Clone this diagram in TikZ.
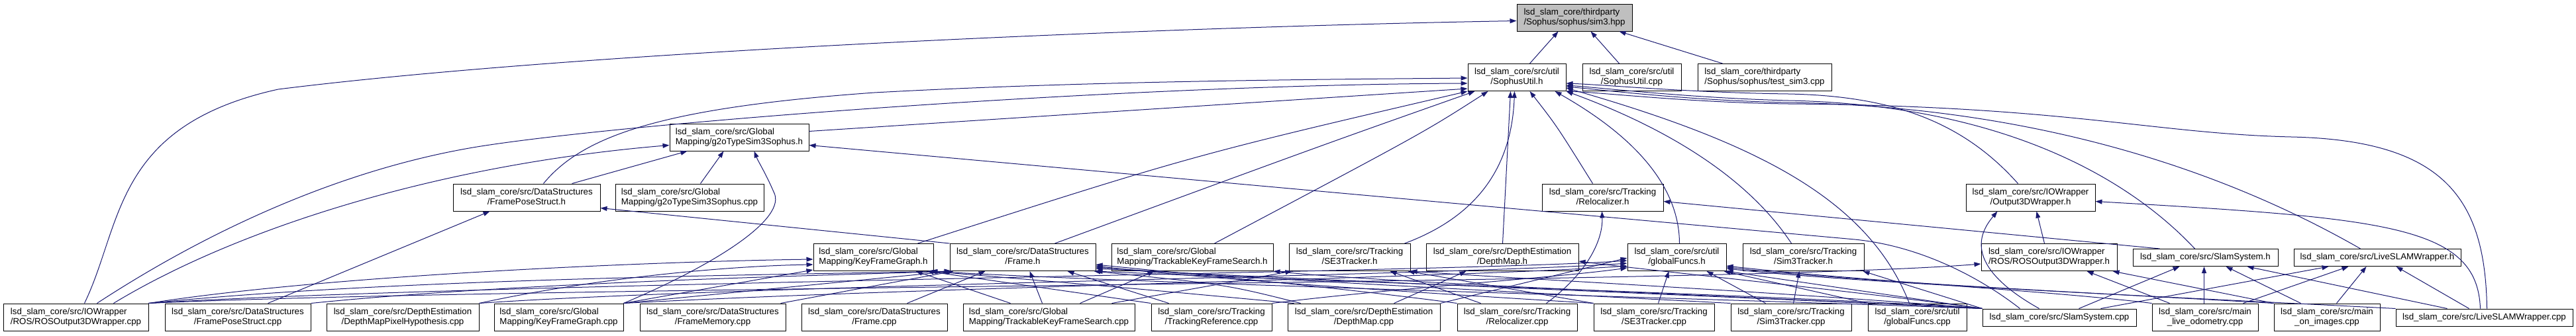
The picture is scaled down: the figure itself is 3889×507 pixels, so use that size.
\documentclass[tikz,border=0pt]{standalone}
\usepackage{fontspec}
\setmainfont{Liberation Sans}
\usetikzlibrary{arrows.meta}
\definecolor{edgec}{HTML}{191970}
\definecolor{rootgray}{HTML}{BFBFBF}
\newsavebox\lblA
\newsavebox\lblB
\newlength\lblw
\newcommand\lbl[2]{\sbox\lblA{#1}\sbox\lblB{#2}\setlength\lblw{\wd\lblA}\ifdim\wd\lblB>\lblw\setlength\lblw{\wd\lblB}\fi\begin{tabular}{@{}l@{}}\usebox\lblA\\\makebox[\lblw][c]{\usebox\lblB}\end{tabular}}
\tikzset{
  box/.style={draw=black, fill=white, line width=1pt, inner sep=2pt, font=\fontsize{13.3}{15}\selectfont, minimum height=41pt},
  onebox/.style={box, minimum height=26pt},
  rootbox/.style={box, fill=rootgray},
  edge/.style={draw=edgec, line width=1pt, -{Triangle[length=10pt,width=7pt]}},
}
\begin{document}
\begin{tikzpicture}[x=1pt,y=-1pt]
\useasboundingbox (0,0) rectangle (3889,507);
% row 1-2
\node[rootbox, minimum width=174pt] (sim3) at (2377,26.5) {\lbl{lsd\_slam\_core/thirdparty}{/Sophus/sophus/sim3.hpp}};
\node[box, minimum width=148pt] (SUh) at (2290,117) {\lbl{lsd\_slam\_core/src/util}{/SophusUtil.h}};
\node[box, minimum width=149pt] (SUcpp) at (2463.5,117) {\lbl{lsd\_slam\_core/src/util}{/SophusUtil.cpp}};
\node[box, minimum width=202pt] (tsim3) at (2664,117) {\lbl{lsd\_slam\_core/thirdparty}{/Sophus/sophus/test\_sim3.cpp}};
% row 3-4
\node[box, minimum width=210pt] (g2oh) at (1116,207.5) {\lbl{lsd\_slam\_core/src/Global}{Mapping/g2oTypeSim3Sophus.h}};
\node[box, minimum width=222pt] (FPSh) at (795,298.5) {\lbl{lsd\_slam\_core/src/DataStructures}{/FramePoseStruct.h}};
\node[box, minimum width=224pt] (g2ocpp) at (1041,298.5) {\lbl{lsd\_slam\_core/src/Global}{Mapping/g2oTypeSim3Sophus.cpp}};
\node[box, minimum width=183pt] (Reloch) at (2419.5,298.5) {\lbl{lsd\_slam\_core/src/Tracking}{/Relocalizer.h}};
\node[box, minimum width=195pt] (O3Dh) at (3065.5,298.5) {\lbl{lsd\_slam\_core/src/IOWrapper}{/Output3DWrapper.h}};
% row 5
\node[box, minimum width=181pt] (KFGh) at (1318.5,389) {\lbl{lsd\_slam\_core/src/Global}{Mapping/KeyFrameGraph.h}};
\node[box, minimum width=220pt] (Frameh) at (1544,389) {\lbl{lsd\_slam\_core/src/DataStructures}{/Frame.h}};
\node[box, minimum width=244pt] (TKFSh) at (1800,389) {\lbl{lsd\_slam\_core/src/Global}{Mapping/TrackableKeyFrameSearch.h}};
\node[box, minimum width=183pt] (SE3h) at (2037.5,389) {\lbl{lsd\_slam\_core/src/Tracking}{/SE3Tracker.h}};
\node[box, minimum width=230pt] (DMh) at (2268,389) {\lbl{lsd\_slam\_core/src/DepthEstimation}{/DepthMap.h}};
\node[box, minimum width=149pt] (GFh) at (2531.5,389) {\lbl{lsd\_slam\_core/src/util}{/globalFuncs.h}};
\node[box, minimum width=183pt] (Sim3Th) at (2722.5,389) {\lbl{lsd\_slam\_core/src/Tracking}{/Sim3Tracker.h}};
\node[box, minimum width=205pt] (ROSh) at (3093.5,389) {\lbl{lsd\_slam\_core/src/IOWrapper}{/ROS/ROSOutput3DWrapper.h}};
\node[onebox, minimum width=219pt] (SSh) at (3329.5,389.5) {lsd\_slam\_core/src/SlamSystem.h};
\node[onebox, minimum width=252pt] (LSWh) at (3589,389.5) {lsd\_slam\_core/src/LiveSLAMWrapper.h};
% row 6
\node[box, minimum width=219pt] (ROScpp) at (114.5,479.5) {\lbl{lsd\_slam\_core/src/IOWrapper}{/ROS/ROSOutput3DWrapper.cpp}};
\node[box, minimum width=220pt] (FPScpp) at (359,479.5) {\lbl{lsd\_slam\_core/src/DataStructures}{/FramePoseStruct.cpp}};
\node[box, minimum width=230pt] (DMPHcpp) at (608,479.5) {\lbl{lsd\_slam\_core/src/DepthEstimation}{/DepthMapPixelHypothesis.cpp}};
\node[box, minimum width=195pt] (KFGcpp) at (843.5,479.5) {\lbl{lsd\_slam\_core/src/Global}{Mapping/KeyFrameGraph.cpp}};
\node[box, minimum width=220pt] (FMcpp) at (1076,479.5) {\lbl{lsd\_slam\_core/src/DataStructures}{/FrameMemory.cpp}};
\node[box, minimum width=220pt] (Framecpp) at (1320,479.5) {\lbl{lsd\_slam\_core/src/DataStructures}{/Frame.cpp}};
\node[box, minimum width=259pt] (TKFScpp) at (1583.5,479.5) {\lbl{lsd\_slam\_core/src/Global}{Mapping/TrackableKeyFrameSearch.cpp}};
\node[box, minimum width=182pt] (TRcpp) at (1829,479.5) {\lbl{lsd\_slam\_core/src/Tracking}{/TrackingReference.cpp}};
\node[box, minimum width=230pt] (DMcpp) at (2059,479.5) {\lbl{lsd\_slam\_core/src/DepthEstimation}{/DepthMap.cpp}};
\node[box, minimum width=181pt] (Reloccpp) at (2290.5,479.5) {\lbl{lsd\_slam\_core/src/Tracking}{/Relocalizer.cpp}};
\node[box, minimum width=182pt] (SE3cpp) at (2497,479.5) {\lbl{lsd\_slam\_core/src/Tracking}{/SE3Tracker.cpp}};
\node[box, minimum width=182pt] (Sim3Tcpp) at (2704,479.5) {\lbl{lsd\_slam\_core/src/Tracking}{/Sim3Tracker.cpp}};
\node[box, minimum width=149pt] (GFcpp) at (2894.5,479.5) {\lbl{lsd\_slam\_core/src/util}{/globalFuncs.cpp}};
\node[onebox, minimum width=232pt] (SScpp) at (3109,480) {lsd\_slam\_core/src/SlamSystem.cpp};
\node[box, minimum width=160pt] (locpp) at (3329,479.5) {\lbl{lsd\_slam\_core/src/main}{\_live\_odometry.cpp}};
\node[box, minimum width=160pt] (oicpp) at (3513,479.5) {\lbl{lsd\_slam\_core/src/main}{\_on\_images.cpp}};
\node[onebox, minimum width=267pt] (LSWcpp) at (3750.5,480) {lsd\_slam\_core/src/LiveSLAMWrapper.cpp};

% ---- edges into sim3
\draw[edge] ([xshift=94pt]SUh.north west) -- ([xshift=63pt]sim3.south west);
\draw[edge] ([xshift=56pt]SUcpp.north west) -- ([xshift=112pt]sim3.south west);
\draw[edge] ([xshift=38pt]tsim3.north west) -- ([xshift=155pt]sim3.south west);
\draw[edge] ([xshift=123pt]ROScpp.north west) .. controls (185,340) and (170,190) .. (420,135) .. controls (900,75) and (1800,40) .. ([yshift=-26pt]sim3.north west);
% ---- edges into SophusUtil.h
\draw[edge] ([yshift=-12pt]g2oh.north east) -- ([yshift=-38pt]SUh.north west);
\draw[edge] ([xshift=137pt]FPSh.north west) .. controls (880,205) and (1000,163) .. (1320,140) .. controls (1650,122) and (2000,120) .. ([yshift=-22pt]SUh.north west);
\draw[edge] ([xshift=142pt]ROScpp.north west) .. controls (320,345) and (520,255) .. (720,222) .. controls (950,185) and (1700,128) .. ([yshift=-30pt]SUh.north west);
\draw[edge] ([xshift=158pt]KFGh.north west) .. controls (1800,235) .. (SUh.south west);
\draw[edge] ([xshift=159pt]Frameh.north west) .. controls (2000,218) .. ([xshift=11pt]SUh.south west);
\draw[edge] ([xshift=156pt]TKFSh.north west) .. controls (2150,200) .. ([xshift=31pt]SUh.south west);
\draw[edge] ([xshift=175pt]SE3h.north west) .. controls (2250,320) and (2283,230) .. ([xshift=71pt]SUh.south west);
\draw[edge] ([xshift=116pt]DMh.north west) -- ([xshift=65pt]SUh.south west);
\draw[edge] ([xshift=77pt]Reloch.north west) .. controls (2350,190) .. ([xshift=94pt]SUh.south west);
\draw[edge] ([xshift=79pt]GFh.north west) .. controls (2535,260) and (2430,185) .. ([xshift=132pt]SUh.south west);
\draw[edge] ([xshift=74pt]Sim3Th.north west) .. controls (2640,270) and (2520,195) .. (SUh.south east);
\draw[edge] ([xshift=63pt]GFcpp.north west) .. controls (2820,300) and (2650,215) .. ([yshift=-37pt]SUh.north east);
\draw[edge] ([xshift=79pt]O3Dh.north west) .. controls (2960,180) and (2850,145) .. (2700,142) .. controls (2550,140) and (2420,128) .. ([yshift=-30pt]SUh.north east);
\draw[edge] ([xshift=94pt]SSh.north west) .. controls (3200,255) and (3000,158) .. (2700,152) .. controls (2550,148) and (2420,133) .. ([yshift=-33pt]SUh.north east);
\draw[edge] ([xshift=101pt]LSWh.north west) .. controls (3300,225) and (3000,160) .. (2700,155) .. controls (2550,152) and (2420,136) .. ([yshift=-35pt]SUh.north east);
\draw[edge] ([xshift=138pt]LSWcpp.north west) .. controls (3752,300) and (3690,212) .. (3459,207) .. controls (3250,202) and (3120,160) .. (2700,157) .. controls (2550,155) and (2420,140) .. (SUh.south east);
% ---- g2oTypeSim3Sophus.h
\draw[edge] ([xshift=167pt]ROScpp.north west) .. controls (350,350) and (650,250) .. ([yshift=-33pt]g2oh.north west);
\draw[edge] ([xshift=180pt]FPSh.north west) -- ([xshift=27pt]g2oh.south west);
\draw[edge] ([xshift=129pt]g2ocpp.north west) -- ([xshift=82pt]g2oh.south west);
\draw[edge] (KFGcpp.north east) .. controls (1080,400) and (1190,330) .. (1168,290) .. controls (1155,260) and (1145,245) .. ([xshift=128pt]g2oh.south west);
\draw[edge] ([xshift=57pt]SScpp.north west) .. controls (2990,420) and (2900,372) .. (2800,362) -- ([yshift=-33pt]g2oh.north east);
% ---- middle
\draw[edge] (Frameh.north west) -- ([yshift=-37pt]FPSh.north east);
\draw[edge] ([xshift=156pt]FPScpp.north west) -- ([xshift=56pt]FPSh.south west);
\draw[edge] ([xshift=96pt]ROSh.north west) -- ([xshift=107pt]O3Dh.south west);
\draw[edge] ([xshift=41pt]SSh.north west) -- ([yshift=-27pt]Reloch.north east);
\draw[edge] ([xshift=86pt]SScpp.north west) .. controls (2960,400) and (2990,350) .. ([xshift=48pt]O3Dh.south west);
\draw[edge] ([xshift=128pt]LSWcpp.north west) .. controls (3740,340) and (3600,330) .. ([yshift=-27pt]O3Dh.north east);
\draw[edge] ([xshift=135pt]Reloccpp.north west) .. controls (2400,410) and (2420,360) .. ([xshift=91pt]Reloch.south west);
% ---- KeyFrameGraph.h
\draw[edge] (ROScpp.north east) .. controls (500,415) and (1000,395) .. ([yshift=-24pt]KFGh.north west);
\draw[edge] (DMPHcpp.north east) .. controls (900,420) and (1100,402) .. ([yshift=-32pt]KFGh.north west);
\draw[edge] (KFGcpp.north east) -- ([yshift=-40pt]KFGh.north west);
\draw[edge] ([xshift=72pt]TKFScpp.north west) -- ([xshift=155pt]KFGh.south west);
\draw[edge] (TRcpp.north west) -- ([xshift=172pt]KFGh.south west);
\draw[edge] ([xshift=10pt]DMcpp.north west) .. controls (1700,435) .. ([xshift=176pt]KFGh.south west);
\draw[edge] (SScpp.north west) .. controls (2600,452) and (1700,428) .. ([xshift=178pt]KFGh.south west);
% ---- Frame.h
\draw[edge] (ROScpp.north east) .. controls (600,420) and (1200,415) .. ([xshift=2pt]Frameh.south west);
\draw[edge] (FPScpp.north east) .. controls (800,425) and (1300,415) .. ([xshift=3pt]Frameh.south west);
\draw[edge] (KFGcpp.north east) -- ([xshift=4pt]Frameh.south west);
\draw[edge] ([xshift=213pt]FMcpp.north west) -- ([xshift=6pt]Frameh.south west);
\draw[edge] ([xshift=160pt]Framecpp.north west) -- ([xshift=54pt]Frameh.south west);
\draw[edge] ([xshift=120pt]TKFScpp.north west) -- ([xshift=121pt]Frameh.south west);
\draw[edge] ([xshift=27pt]TRcpp.north west) -- ([xshift=178pt]Frameh.south west);
\draw[edge] ([xshift=20pt]DMcpp.north west) .. controls (1850,430) .. ([xshift=-3pt]Frameh.south east);
\draw[edge] (Reloccpp.north west) .. controls (2000,432) and (1800,415) .. ([yshift=-32pt]Frameh.north east);
\draw[edge] (SE3cpp.north west) .. controls (2100,440) and (1800,420) .. ([yshift=-34pt]Frameh.north east);
\draw[edge] (Sim3Tcpp.north west) .. controls (2300,442) and (1900,422) .. ([yshift=-36pt]Frameh.north east);
\draw[edge] (GFcpp.north west) .. controls (2500,444) and (2000,424) .. ([yshift=-38pt]Frameh.north east);
\draw[edge] (SScpp.north west) .. controls (2700,446) and (2000,426) .. (Frameh.south east);
% ---- TrackableKeyFrameSearch.h, SE3Tracker.h, DepthMap.h
\draw[edge] ([xshift=177pt]TKFScpp.north west) -- ([xshift=65pt]TKFSh.south west);
\draw[edge] (SScpp.north west) .. controls (2600,447) and (2100,428) .. (TKFSh.south east);
\draw[edge] ([xshift=225pt]TKFScpp.north west) -- ([xshift=5pt]SE3h.south west);
\draw[edge] ([xshift=36pt]Reloccpp.north west) -- ([xshift=153pt]SE3h.south west);
\draw[edge] (SE3cpp.north west) -- ([xshift=-4pt]SE3h.south east);
\draw[edge] (SScpp.north west) .. controls (2700,442) and (2300,422) .. (SE3h.south east);
\draw[edge] ([xshift=161pt]DMcpp.north west) -- ([xshift=61pt]DMh.south west);
\draw[edge] (SScpp.north west) .. controls (2800,440) and (2500,410) .. ([yshift=-27pt]DMh.north east);
% ---- globalFuncs.h
\draw[edge] (ROScpp.north east) .. controls (700,428) and (2200,412) .. ([yshift=-26pt]GFh.north west);
\draw[edge] (DMPHcpp.north east) .. controls (1100,432) and (2200,416) .. ([yshift=-30pt]GFh.north west);
\draw[edge] (KFGcpp.north east) .. controls (1400,434) and (2200,420) .. ([yshift=-34pt]GFh.north west);
\draw[edge] (TRcpp.north east) .. controls (2100,436) and (2350,420) .. ([yshift=-37pt]GFh.north west);
\draw[edge] (DMcpp.north east) -- ([yshift=-22pt]GFh.north west);
\draw[edge] ([xshift=98pt]SE3cpp.north west) -- ([xshift=63pt]GFh.south west);
\draw[edge] ([xshift=53pt]Sim3Tcpp.north west) -- ([xshift=120pt]GFh.south west);
\draw[edge] (GFcpp.north west) -- ([xshift=-4pt]GFh.south east);
\draw[edge] (SScpp.north west) -- (GFh.south east);
\draw[edge] (locpp.north west) .. controls (3100,440) and (2800,424) .. ([yshift=-34pt]GFh.north east);
\draw[edge] (oicpp.north west) .. controls (3200,445) and (2800,426) .. ([yshift=-36pt]GFh.north east);
\draw[edge] (LSWcpp.north west) .. controls (3300,450) and (2800,428) .. ([yshift=-38pt]GFh.north east);
% ---- Sim3Tracker.h
\draw[edge] ([xshift=95pt]Sim3Tcpp.north west) -- ([xshift=86pt]Sim3Th.south west);
\draw[edge] (SScpp.north west) -- ([xshift=-2pt]Sim3Th.south east);
% ---- ROSOutput3DWrapper.h
\draw[edge] (ROScpp.north east) .. controls (800,432) and (2600,430) .. ([yshift=-31pt]ROSh.north west);
\draw[edge] ([xshift=27pt]locpp.north west) -- ([xshift=160pt]ROSh.south west);
\draw[edge] (oicpp.north west) -- ([xshift=199pt]ROSh.south west);
% ---- SlamSystem.h
\draw[edge] ([xshift=146pt]SScpp.north west) -- ([xshift=71pt]SSh.south west);
\draw[edge] ([xshift=79pt]locpp.north west) -- ([xshift=108pt]SSh.south west);
\draw[edge] ([xshift=41pt]oicpp.north west) -- ([xshift=141pt]SSh.south west);
\draw[edge] ([xshift=78pt]LSWcpp.north west) -- ([xshift=173pt]SSh.south west);
% ---- LiveSLAMWrapper.h
\draw[edge] ([xshift=179pt]SScpp.north west) -- ([xshift=53pt]LSWh.south west);
\draw[edge] ([xshift=138pt]locpp.north west) -- ([xshift=83pt]LSWh.south west);
\draw[edge] ([xshift=95pt]oicpp.north west) -- ([xshift=110pt]LSWh.south west);
\draw[edge] ([xshift=111pt]LSWcpp.north west) -- ([xshift=155pt]LSWh.south west);
\end{tikzpicture}
\end{document}
